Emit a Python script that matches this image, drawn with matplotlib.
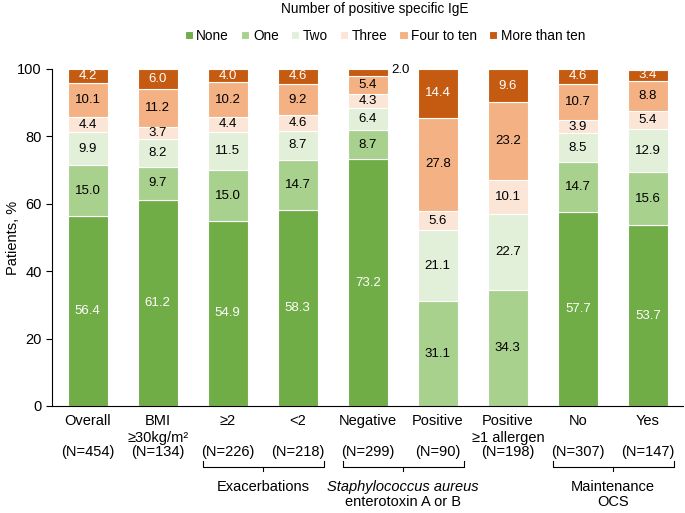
import matplotlib.pyplot as plt
import numpy as np

plt.rcParams["font.family"] = ["Liberation Sans", "DejaVu Sans"]

categories = ["Overall", "BMI\n≥30kg/m²", "≥2", "<2", "Negative", "Positive",
              "Positive\n≥1 allergen", "No", "Yes"]
n_labels = ["(N=454)", "(N=134)", "(N=226)", "(N=218)", "(N=299)", "(N=90)",
            "(N=198)", "(N=307)", "(N=147)"]
series = ["None", "One", "Two", "Three", "Four to ten", "More than ten"]
none_ = [56.4, 61.2, 54.9, 58.3, 73.2, 0.0, 0.0, 57.7, 53.7]
one = [15.0, 9.7, 15.0, 14.7, 8.7, 31.1, 34.3, 14.7, 15.6]
two = [9.9, 8.2, 11.5, 8.7, 6.4, 21.1, 22.7, 8.5, 12.9]
three = [4.4, 3.7, 4.4, 4.6, 4.3, 5.6, 10.1, 3.9, 5.4]
four_ten = [10.1, 11.2, 10.2, 9.2, 5.4, 27.8, 23.2, 10.7, 8.8]
more_ten = [4.2, 6.0, 4.0, 4.6, 2.0, 14.4, 9.6, 4.6, 3.4]
# (first line, second line, first bar, last bar, first line italic?)
groups = [("Exacerbations", None, 2, 3, False),
          ("Staphylococcus aureus", "enterotoxin A or B", 4, 5, True),
          ("Maintenance", "OCS", 7, 8, False)]

colors = ["#70AD47", "#A9D18E", "#E2F0D9", "#FBE5D6", "#F4B183", "#C55A11"]
text_colors = ["white", "black", "black", "black", "black", "white"]

fig = plt.figure(figsize=(6.85, 5.13), dpi=100)
ax = fig.add_axes([0.0759, 0.2086, 0.921, 0.6569])

x = np.arange(len(categories))
width = 0.57
bottom = np.zeros(len(categories))
for vals, name, col, tcol in zip([none_, one, two, three, four_ten, more_ten],
                                 series, colors, text_colors):
    vals = np.array(vals)
    ax.bar(x, vals, width, bottom=bottom, color=col, edgecolor="white",
           linewidth=0.8, label=name)
    for xi, v, b in zip(x, vals, bottom):
        if v <= 0:
            continue
        if v < 3:
            # too thin for a label inside, put it beside the bar
            ax.text(xi + width / 2 + 0.05, b + v / 2 + 0.6, f"{v:.1f}", ha="left",
                    va="center", fontsize=9.5, color="black")
        else:
            ax.text(xi, b + v / 2, f"{v:.1f}", ha="center", va="center",
                    fontsize=9.5, color=tcol)
    bottom += vals

ax.set_xlim(-0.51, 8.5)
ax.set_ylim(0, 100)
ax.set_yticks(range(0, 101, 20))
ax.tick_params(axis="y", labelsize=10.5, length=4, width=0.8)
ax.tick_params(axis="x", length=0, labelbottom=False)
ax.spines["top"].set_visible(False)
ax.spines["right"].set_visible(False)
ax.spines["left"].set_linewidth(0.8)
ax.spines["bottom"].set_linewidth(0.8)
ax.set_ylabel("Patients, %", fontsize=10.5)
ax.yaxis.set_label_coords(-0.051, 0.5)

tr = ax.get_xaxis_transform()
for xi, cat, nl in zip(x, categories, n_labels):
    ax.text(xi, -0.025, cat, transform=tr, ha="center", va="top", fontsize=10.5,
            linespacing=1.2)
    ax.text(xi, -0.137, nl, transform=tr, ha="center", va="center", fontsize=10.5)

for line1, line2, i0, i1, ital in groups:
    xl, xr = i0 - 0.35, i1 + 0.38
    xm = (i0 + i1) / 2
    y_top, y_mid, y_low = -0.163, -0.181, -0.193
    ax.plot([xl, xl, xr, xr], [y_top, y_mid, y_mid, y_top], transform=tr,
            color="black", lw=0.8, clip_on=False)
    ax.plot([xm, xm], [y_mid, y_low], transform=tr, color="black", lw=0.8,
            clip_on=False)
    ax.text(xm, -0.24, line1, transform=tr, ha="center", va="center",
            fontsize=10.5, style="italic" if ital else "normal")
    if line2:
        ax.text(xm, -0.285, line2, transform=tr, ha="center", va="center",
                fontsize=10.5)

fig.text(0.547, 0.983, "Number of positive specific IgE", ha="center", va="center",
         fontsize=9.8)
handles, labels = ax.get_legend_handles_labels()
fig.legend(handles, labels, loc="center", bbox_to_anchor=(0.562, 0.93), ncol=6,
           frameon=False, fontsize=9.8, handlelength=0.6, handleheight=0.6,
           handletextpad=0.25, columnspacing=0.9, borderaxespad=0)

fig.savefig("out.png", dpi=100)
